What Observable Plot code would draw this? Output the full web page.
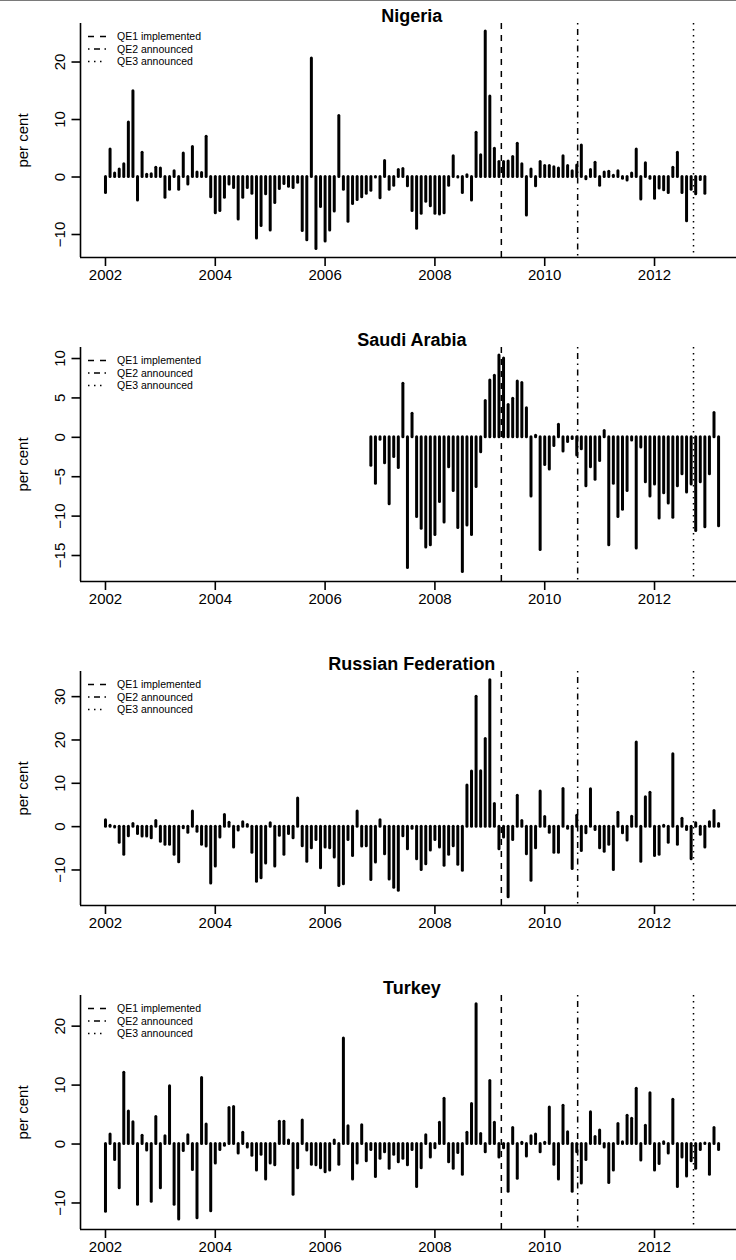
<!DOCTYPE html>
<html>
<head>
<meta charset="utf-8">
<script src="https://cdn.jsdelivr.net/npm/d3@7"></script>
<script src="https://cdn.jsdelivr.net/npm/@observablehq/plot@0.6"></script>
<style>
  body { margin: 0; background: #fff; }
  #chart { position: relative; width: 736px; font-family: "Liberation Sans", Arial, Helvetica, sans-serif; }
  #chart svg { display: block; }
  #topline { position: absolute; left: 0; top: 0; width: 736px; height: 1px; background: #7a7a7a; }
  #chart svg g[aria-label="x-axis"] line,
  #chart svg g[aria-label="y-axis"] line,
  #chart svg g[aria-label*="tick"] path { stroke-width: 1.6px; }
</style>
</head>
<body>
<div id="chart"><div id="topline"></div></div>
<script>
// Monthly change, per cent. Each series starts at the given month.
const nigeriaStart = "2002-01";
const nigeria = [
  -2.8, 4.8, 0.6, 1.3, 2.2, 9.5, 14.9, -4.1, 4.2, 0.4, 0.5, 1.6,
  1.5, -3.6, -2.2, 1.0, -2.2, 4.1, -1.3, 5.2, 0.8, 0.7, 7.0, -3.5,
  -6.3, -5.9, -3.6, -1.3, -1.9, -7.4, -3.6, -1.9, -2.9, -10.7, -8.5, -3.0,
  -9.3, -4.5, -2.1, -1.2, -1.7, -1.9, -1.0, -9.4, -11.0, 20.6, -12.5, -5.2,
  -11.2, -9.3, -6.0, 10.6, -2.2, -7.8, -4.7, -4.0, -3.5, -2.9, -2.4, -0.1,
  -3.7, 2.8, -2.2, -1.5, 1.2, 1.4, -1.6, -5.9, -9.0, -6.4, -4.3, -5.1,
  -6.4, -6.5, -6.3, -1.5, 3.6, -0.1, -2.8, 0.3, -4.1, 7.7, 3.8, 25.3,
  14.0, 4.9, 2.6, 2.6, 2.7, 3.5, 5.8, 2.2, -6.7, 1.3, -1.6, 2.6,
  1.9, 1.9, 1.7, 1.5, 3.6, 1.9, 1.0, 2.0, 5.5, -0.4, 1.2, 2.5,
  -1.5, 0.8, 0.9, 0.2, 1.0, -0.3, -0.6, 0.6, 4.8, -3.9, 2.4, -0.3,
  -3.8, -2.0, -2.3, -2.8, 1.6, 4.2, -2.8, -7.7, -2.2, -3.0, -0.5, -2.9
];

const saudiStart = "2006-11";
const saudiArabia = [
  -3.6, -5.9,
  -0.3, -3.3, -8.5, -2.5, -3.9, 6.8, -16.6, 3.0, -10.1, -11.6, -14.0, -13.7,
  -12.4, -8.2, -10.8, -3.8, -6.8, -11.5, -17.1, -11.2, -12.4, -6.3, -1.9, 4.6,
  7.2, 7.8, 10.4, 10.0, 4.1, 4.9, 7.1, 6.9, 3.7, -7.5, 0.2, -14.3,
  -3.5, -4.1, -1.1, 1.6, -1.8, -0.6, -0.2, -2.3, -1.5, -6.2, -3.8, -5.4,
  -3.0, 0.8, -13.7, -5.9, -10.1, -9.2, -6.8, -0.4, -14.1, -1.3, -5.7, -7.5,
  -6.0, -10.3, -7.1, -8.4, -10.2, -6.2, -4.7, -7.0, -6.0, -11.9, -5.7, -11.4,
  -4.7, 3.1, -11.3
];

const russiaStart = "2002-01";
const russia = [
  1.5, 0.2, -0.2, -3.7, -6.5, -2.2, 0.6, -1.7, -2.3, -2.3, -2.7, 1.3,
  -3.5, -4.2, -4.2, -6.5, -8.2, -0.4, -1.4, 3.5, -1.2, -4.2, -4.6, -13.1,
  -9.2, -2.5, 2.7, 0.9, -4.8, -0.9, 1.0, 0.4, -6.0, -12.7, -11.9, -8.5,
  0.8, -9.2, -2.1, -6.5, -1.7, -2.7, 6.5, -4.5, -8.1, -5.0, -3.1, -9.6,
  -4.8, -5.0, -7.1, -13.7, -13.3, -3.1, -6.8, 3.5, -4.6, -4.5, -12.3, -8.3,
  1.5, -6.4, -12.2, -14.1, -14.8, -2.2, -5.2, -0.5, -7.5, -10.0, -8.7, -5.5,
  -3.1, -4.8, -9.0, -6.5, -4.5, -8.8, -10.2, 9.5, 12.7, 30.0, 12.8, 20.2,
  33.8, 5.2, -5.2, -2.5, -16.3, -3.1, 7.1, 1.3, -6.4, -12.5, -5.0, 8.1,
  2.2, -1.4, -6.0, -6.0, 8.7, -0.5, -9.8, 2.5, -5.6, -1.5, 8.6, -0.8,
  -5.0, -5.8, -4.2, -10.0, 3.2, -1.5, -3.2, 2.3, 19.4, -8.1, 6.8, 7.8,
  -6.8, -6.5, 0.2, -3.7, 16.7, -4.2, 1.8, -0.8, -7.5, 0.8, -1.9, -4.8,
  1.0, 3.6, 0.6
];

const turkeyStart = "2002-01";
const turkey = [
  -11.5, 1.6, -2.7, -7.5, 12.1, 5.5, 3.7, -10.3, 1.4, -1.1, -9.8, 4.6,
  -7.5, 1.3, 9.8, -10.3, -12.8, -1.2, 1.5, -4.4, -12.6, 11.2, 3.3, -11.4,
  -3.3, -1.0, -0.3, 6.1, 6.3, -1.6, 1.9, -0.6, -2.0, -4.5, -1.8, -6.0,
  -3.3, -3.6, 3.8, 3.8, 0.6, -8.6, -4.1, 4.0, -1.1, -3.5, -3.6, -4.1,
  -4.8, -4.5, 0.6, -3.5, 17.9, 3.0, -6.0, -3.3, 3.2, -2.9, -1.0, -5.6,
  -2.5, -1.4, -4.2, -1.8, -3.1, -2.5, -3.6, -1.0, -7.3, -4.1, 1.5, -2.3,
  -0.7, 3.6, 7.7, -3.1, -4.2, -1.5, -5.2, 1.9, 6.8, 23.7, 1.7, -1.4,
  10.7, 3.6, -2.3, -0.7, -8.1, 2.7, -5.9, 0.2, -2.1, 1.3, 1.6, -1.4,
  0.2, 6.2, -3.5, -6.0, 6.5, 2.0, -8.1, -1.4, -6.7, -2.7, 5.4, 1.2,
  2.3, -0.6, -6.6, -4.5, 3.4, 0.3, 4.8, 4.3, 9.4, -2.8, 3.1, 8.6,
  -4.5, -3.4, 0.3, -1.6, 7.5, -7.3, -2.3, -5.5, -2.9, -4.2, -1.0, 0.1,
  -5.2, 2.7, -1.0
];

// Policy events drawn as vertical reference lines (decimal years)
const qeLabels = ["QE1 implemented", "QE2 announced", "QE3 announced"];
const qeDates = [2009.21, 2010.6, 2012.71];
const qeDash = ["6,6", "1.5,4.5,6,4.5", "1.5,4.5"];

const yearTicks = [2002, 2004, 2006, 2008, 2010, 2012];
const xDomain = [2001.545, 2013.493];
const xCentre = 2007.58;

const panels = [
  {name: "Nigeria", start: nigeriaStart, values: nigeria, yDomain: [-14.0, 26.7], yTicks: [-10, 0, 10, 20], height: 324},
  {name: "Saudi Arabia", start: saudiStart, values: saudiArabia, yDomain: [-18.3, 11.4], yTicks: [-15, -10, -5, 0, 5, 10], height: 324},
  {name: "Russian Federation", start: russiaStart, values: russia, yDomain: [-18.2, 35.8], yTicks: [-10, 0, 10, 20, 30], height: 324},
  {name: "Turkey", start: turkeyStart, values: turkey, yDomain: [-14.5, 25.2], yTicks: [-10, 0, 10, 20], height: 288}
];

const fmt = (d) => (d < 0 ? "\u2212" + Math.abs(d) : String(d));
const frameTop = 23, frameHeight = 234;
const chart = document.getElementById("chart");

for (const p of panels) {
  const [y0, m0] = p.start.split("-").map(Number);
  const rows = p.values.map((v, k) => ({t: y0 + (m0 - 1 + k) / 12, v}));

  const svg = Plot.plot({
    width: 736,
    height: p.height,
    marginLeft: 80,
    marginRight: 0,
    marginTop: frameTop,
    marginBottom: p.height - frameTop - frameHeight,
    style: {fontFamily: "'Liberation Sans', Arial, Helvetica, sans-serif", fontSize: "15px", background: "#fff", color: "#000"},
    x: {domain: xDomain, ticks: yearTicks, tickFormat: "d", tickSize: 9, tickPadding: 3, label: null},
    y: {domain: p.yDomain, ticks: p.yTicks, tickSize: 8.5, tickFormat: () => "", label: null},
    marks: [
      // L-shaped box
      Plot.ruleX([xDomain[0]], {stroke: "#000", strokeWidth: 1.6}),
      Plot.ruleY([p.yDomain[0]], {stroke: "#000", strokeWidth: 1.6}),
      // monthly bars from zero
      Plot.ruleX(rows, {x: "t", y1: 0, y2: "v", stroke: "#000", strokeWidth: 3, strokeLinecap: "round"}),
      // QE reference lines
      ...qeDates.map((d, i) => Plot.ruleX([d], {stroke: "#000", strokeWidth: 1.5, strokeDasharray: qeDash[i]})),
      // rotated y tick labels
      Plot.text(p.yTicks, {frameAnchor: "left", y: (d) => d, text: fmt, rotate: -90, dx: -20, textAnchor: "middle", lineAnchor: "middle", fontSize: 15}),
      // y-axis title
      Plot.text(["per cent"], {frameAnchor: "left", rotate: -90, dx: -57, textAnchor: "middle", lineAnchor: "middle", fontSize: 15}),
      // panel title
      Plot.text([p.name], {x: xCentre, frameAnchor: "top", dy: -2, lineAnchor: "bottom", fontWeight: "bold", fontSize: 18})
    ]
  });

  // legend in the top-left corner of the frame
  const lg = d3.select(svg).append("g")
    .attr("transform", `translate(80,${frameTop})`)
    .attr("font-family", "'Liberation Sans', Arial, Helvetica, sans-serif")
    .attr("font-size", "10.5px")
    .attr("text-anchor", "start");
  qeLabels.forEach((label, i) => {
    const cy = 13.5 + i * 12.5;
    lg.append("line")
      .attr("x1", 8).attr("x2", 26).attr("y1", cy).attr("y2", cy)
      .attr("stroke", "#000").attr("stroke-width", 1.3)
      .attr("stroke-dasharray", qeDash[i]);
    lg.append("text")
      .attr("x", 37).attr("y", cy).attr("dy", "0.35em")
      .attr("fill", "#000")
      .attr("text-anchor", "start")
      .text(label);
  });

  chart.appendChild(svg);
}
</script>
</body>
</html>
